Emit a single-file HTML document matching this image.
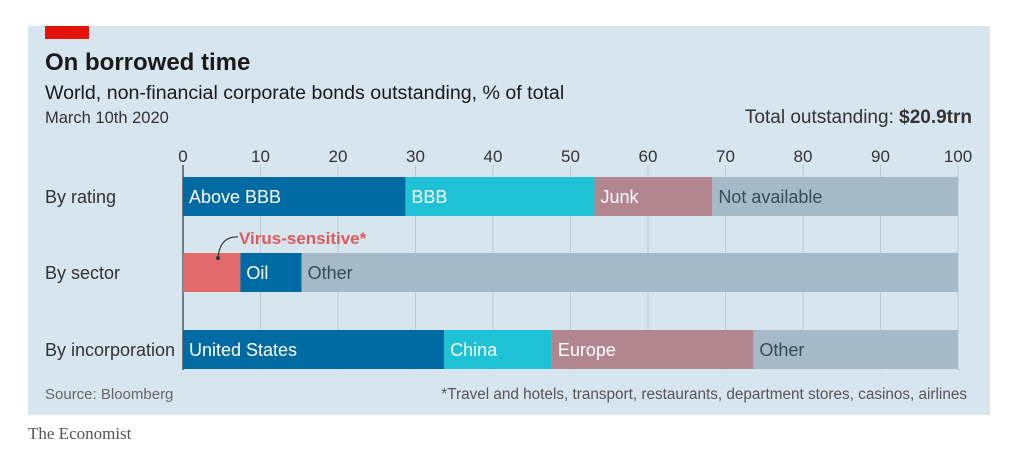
<!DOCTYPE html>
<html><head><meta charset="utf-8"><style>
body{margin:0;background:#fff;width:1016px;height:470px;overflow:hidden;font-family:"Liberation Sans",sans-serif}
</style></head><body>
<svg width="1016" height="470" xmlns="http://www.w3.org/2000/svg">
<rect x="28" y="26" width="962" height="389" fill="#d7e5ef"/>
<rect x="45" y="26" width="44" height="13" fill="#e3120b"/>
<text x="45" y="70" font-size="24" font-weight="bold" fill="#1a1a1a">On borrowed time</text>
<text x="45" y="99" font-size="19.6" fill="#1a1a1a">World, non-financial corporate bonds outstanding, % of total</text>
<text x="45" y="123" font-size="16.5" fill="#333">March 10th 2020</text>
<text x="972" y="123" font-size="19" fill="#333" text-anchor="end">Total outstanding: <tspan font-weight="bold">$20.9trn</tspan></text>
<g id="grid"></g>
<g id="bars"></g>
<path d="M218 258 Q220 236 238 237" fill="none" stroke="#333" stroke-width="1.2"/>
<circle cx="218" cy="258" r="2" fill="#333"/>
<text x="239" y="244" font-size="17" font-weight="bold" fill="#db5a5a">Virus-sensitive*</text>
<text x="45" y="399" font-size="15" fill="#666">Source: Bloomberg</text>
<text x="967" y="399" font-size="15.3" fill="#555" text-anchor="end">*Travel and hotels, transport, restaurants, department stores, casinos, airlines</text>
<text x="28" y="439" font-size="17" font-family="Liberation Serif,serif" fill="#555">The Economist</text>
</svg>
<script>
const ticks=[0,10,20,30,40,50,60,70,80,90,100];
const rowLabels=["By rating","By sector","By incorporation"];
const rowSegLabels=[["Above BBB","BBB","Junk","Not available"],["","Oil","Other"],["United States","China","Europe","Other"]];
const rowValues=[[28.7,24.4,15.2,31.7],[7.4,7.9,84.7],[33.7,13.9,26.0,26.4]];
const rowColors=[["#006ba2","#1ec1d6","#b1868f","#a5b9c7"],["#e36b6b","#006ba2","#a5b9c7"],["#006ba2","#1ec1d6","#b1868f","#a5b9c7"]];
const textColors={"#a5b9c7":"#3a4b58"};
const NS="http://www.w3.org/2000/svg";
const x0=183,x1=958,xs=v=>x0+(x1-x0)*v/100;
const rowY=[177,253,330],bh=39;
const g=document.getElementById('grid'),b=document.getElementById('bars');
function mk(t,a,p){const e=document.createElementNS(NS,t);for(const k in a)e.setAttribute(k,a[k]);p.appendChild(e);return e;}
ticks.forEach(t=>{
 const l=mk('line',{x1:xs(t),x2:xs(t),y1:165,y2:370,stroke:t===0?'#333':'#b8c8d4','stroke-width':t===0?1.2:1},g);
 
 
 const tx=mk('text',{x:xs(t),y:162,'font-size':17,fill:'#333','text-anchor':'middle'},g);
 tx.textContent=t;
 
 
});
rowLabels.forEach((lab,i)=>{
 const y=rowY[i];
 const t=mk('text',{x:45,y:y+26,'font-size':18,fill:'#333'},b);
 t.textContent=lab;
 
 
 let acc=0;
 rowValues[i].forEach((v,j)=>{
  const r=mk('rect',{x:xs(acc),y:y,width:xs(acc+v)-xs(acc),height:bh,fill:rowColors[i][j]},b);
  
  
  if(rowSegLabels[i][j]){
   const s=mk('text',{x:xs(acc)+6,y:y+26,'font-size':18,fill:textColors[rowColors[i][j]]||'#fff'},b);
   s.textContent=rowSegLabels[i][j];
   
   
  }
  acc+=v;
 });
});
</script>
</body></html>
